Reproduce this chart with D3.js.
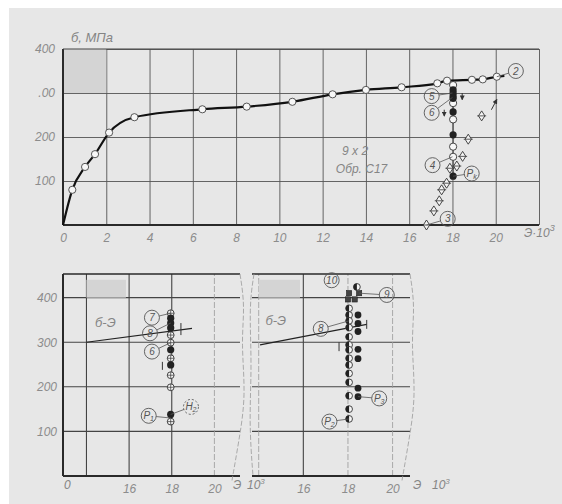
<!DOCTYPE html>
<html>
<head>
<meta charset="utf-8">
<script src="https://cdn.jsdelivr.net/npm/d3@7"></script>
<style>
  body { margin: 0; background: #fff; }
  .lbl { font-family: "Liberation Sans Narrow", "Liberation Sans", sans-serif; font-style: italic; fill: #858585; }
  .axis path { display: none; }
  .axis text { font-family: "Liberation Sans Narrow", "Liberation Sans", sans-serif; font-style: italic; fill: #8c8c8c; font-size: 12px; }
</style>
</head>
<body>
<div id="chart"></div>
<script>
// ---------- data (strain E x10^3, stress MPa) ----------
// main stress-strain curve, top chart
var curveE = [0, 0.43, 1.02, 1.48, 2.13, 3.3, 6.44, 8.49, 10.6, 12.46, 14.0, 15.65, 17.3, 17.75, 18.9, 19.4, 20.05, 20.4];
var curveS = [0, 80, 132, 161, 210, 245, 263, 269, 280, 297, 307, 313, 322, 328, 330, 331, 337, 339];
// vertical column at E ~ 18 (top chart)
var colE = 18.03;
var colOpenS = [318, 277, 240, 178, 155];
var colFilledS = [307, 300, 293, 288, 257, 205, 111];
// unloading diamonds
var diaE = [19.35, 18.73, 18.47, 18.2, 17.88, 17.73, 17.5, 17.39, 17.14, 16.8];
var diaS = [248, 195, 156, 134, 129, 95, 80, 55, 32, 0];

// bottom-left panel
var blE = 17.95;
var blCrossS = [365, 316, 299, 264, 226, 199, 122];
var blFilledS = [354, 343, 332, 283, 249, 138];
var blLineE = [14.0, 18.95];
var blLineS = [300, 331];

// bottom-right panel
var brE = 18.05;
var brHalfS = [376, 361, 348, 333, 312, 294, 283, 264, 249, 230, 210, 180, 150, 128];
var brFilledE = 18.45;
var brFilledS = [361, 342, 324, 284, 263, 197, 178];
var brSqE = [18.05, 18.0, 18.3, 18.5];
var brSqS = [410, 396, 396, 410];
var brLineE = [14.06, 18.84];
var brLineS = [294, 340];

// tick labels
var topXTicks = [0, 2, 4, 6, 8, 10, 12, 14, 16, 18, 20];
var topYTicks = [100, 200, 300, 400];
var topYLabels = ["100", "200", ".00", "400"];
var botXTicks = [16, 18, 20];
var botYTicks = [100, 200, 300, 400];

// circled callouts: [text, labelE, labelS, targetE, targetS]
var topNotes = [["2", 20.93, 350, 20.05, 337], ["5", 17.04, 293, 18.0, 300], ["6", 17.04, 255, 18.0, 290],
  ["4", 17.08, 136, 18.0, 155], ["Pk", 18.89, 117, 18.03, 111], ["3", 17.78, 14, 16.8, 0]];
var blNotes = [["7", 17.07, 355, 17.95, 365], ["8", 16.98, 320, 17.95, 343], ["6", 17.07, 279, 17.95, 299],
  ["P1", 16.92, 135, 17.95, 130], ["H2", 18.9, 155, 17.95, 138]];
var brNotes = [["10", 17.27, 439, null, null], ["9", 19.74, 406, 18.5, 410], ["8", 16.78, 330, 18.05, 348],
  ["P3", 19.4, 174, 18.45, 178], ["P2", 17.17, 122, 18.05, 128]];

// ---------- setup ----------
var svg_width = 562, svg_height = 504;
var svg = d3.select("#chart").append("svg")
  .attr("width", svg_width).attr("height", svg_height);

svg.append("rect").attr("x", 9).attr("y", 8).attr("width", svg_width - 9).attr("height", svg_height - 8)
  .attr("fill", "#e7e7e7");

var ink = "#2a2a2a";

// scales
var xTop = d3.scaleLinear().domain([0, 22]).range([63, 539]);
var yTop = d3.scaleLinear().domain([0, 400]).range([225, 49]);
var xBL = d3.scaleLinear().domain([12.9, 21.2]).range([63, 240]);
var xBR = d3.scaleLinear().domain([13.7, 20.78]).range([252, 410]);
var yBot = d3.scaleLinear().domain([0, 453]).range([476, 274]);

// ---------- top chart ----------
var topG = svg.append("g");
// grid
topG.append("g").attr("transform", "translate(0,225)")
  .call(d3.axisBottom(xTop).tickValues(d3.range(2, 23, 2)).tickSize(-176).tickFormat(""))
  .selectAll("line").attr("stroke", "#555").attr("stroke-width", 0.9);
topG.append("g").attr("transform", "translate(63,0)")
  .call(d3.axisLeft(yTop).tickValues(topYTicks).tickSize(-476).tickFormat(""))
  .selectAll("line").attr("stroke", "#555").attr("stroke-width", 0.9);
topG.selectAll(".domain").remove();
// redaction block
topG.append("rect").attr("x", xTop(0)).attr("y", yTop(400)).attr("width", xTop(2) - xTop(0))
  .attr("height", yTop(300) - yTop(400)).attr("fill", "#d4d4d4");
// axes
topG.append("line").attr("x1", xTop(0)).attr("x2", xTop(22)).attr("y1", yTop(0)).attr("y2", yTop(0))
  .attr("stroke", ink).attr("stroke-width", 2);
topG.append("line").attr("x1", xTop(0)).attr("x2", xTop(0)).attr("y1", yTop(0)).attr("y2", yTop(400))
  .attr("stroke", ink).attr("stroke-width", 2);
topG.append("line").attr("x1", xTop(0)).attr("x2", xTop(22)).attr("y1", yTop(400)).attr("y2", yTop(400))
  .attr("stroke", "#444").attr("stroke-width", 1.2);

topG.append("g").attr("class", "axis").attr("transform", "translate(0,225)")
  .call(d3.axisBottom(xTop).tickValues(topXTicks).tickSize(0).tickPadding(8));
topG.append("g").attr("class", "axis").attr("transform", "translate(63,0)")
  .call(d3.axisLeft(yTop).tickValues(topYTicks).tickSize(0).tickPadding(8)
    .tickFormat(function(d, i) { return topYLabels[i]; }));

topG.append("text").attr("class", "lbl").attr("x", 71).attr("y", 42).attr("font-size", 13).text("б, МПа");
var unitTop = topG.append("text").attr("class", "lbl").attr("x", 524).attr("y", 237).attr("font-size", 12);
unitTop.append("tspan").text("Э·10");
unitTop.append("tspan").attr("dy", -6).attr("font-size", 9).text("3");

topG.append("text").attr("class", "lbl").attr("x", xTop(13.5)).attr("y", yTop(160)).attr("text-anchor", "middle")
  .attr("font-size", 12).text("9 x 2");
topG.append("text").attr("class", "lbl").attr("x", xTop(13.8)).attr("y", yTop(118)).attr("text-anchor", "middle")
  .attr("font-size", 12).text("Обр. С17");

// curve
var curvePts = curveE.map(function(e, i) { return [e, curveS[i]]; });
topG.append("path").datum(curvePts)
  .attr("d", d3.line().x(function(d) { return xTop(d[0]); }).y(function(d) { return yTop(d[1]); }).curve(d3.curveMonotoneX))
  .attr("fill", "none").attr("stroke", "#111").attr("stroke-width", 2.2);

// column vertical guide
topG.append("line").attr("x1", xTop(colE)).attr("x2", xTop(colE)).attr("y1", yTop(318)).attr("y2", yTop(105))
  .attr("stroke", "#444").attr("stroke-width", 1);

// small arrows
function arrow(g, x1, y1, x2, y2) {
  g.append("line").attr("x1", x1).attr("y1", y1).attr("x2", x2).attr("y2", y2)
    .attr("stroke", "#333").attr("stroke-width", 1).attr("marker-end", "url(#ah)");
}
svg.append("defs").append("marker").attr("id", "ah").attr("viewBox", "0 0 6 6").attr("refX", 5).attr("refY", 3)
  .attr("markerWidth", 5).attr("markerHeight", 5).attr("orient", "auto")
  .append("path").attr("d", "M0,0L6,3L0,6Z").attr("fill", "#333");
arrow(topG, xTop(19.8), yTop(262), xTop(20.05), yTop(285));
arrow(topG, xTop(18.45), yTop(300), xTop(18.45), yTop(285));
arrow(topG, xTop(17.62), yTop(262), xTop(17.62), yTop(248));

// diamonds
topG.selectAll(".dia").data(diaE).enter().append("g")
  .attr("transform", function(d, i) { return "translate(" + xTop(d) + "," + yTop(diaS[i]) + ")"; })
  .each(function() {
    var g = d3.select(this);
    g.append("path").attr("d", "M0,-5L3.2,0L0,5L-3.2,0Z").attr("fill", "#f4f4f4").attr("stroke", "#333").attr("stroke-width", 0.9);
    g.append("line").attr("x1", -4.5).attr("x2", 4.5).attr("stroke", "#333").attr("stroke-width", 0.8);
  });

// open circles along curve
topG.selectAll(".oc").data(curveE.slice(1, 17)).enter().append("circle")
  .attr("cx", function(d) { return xTop(d); })
  .attr("cy", function(d, i) { return yTop(curveS[i + 1]); })
  .attr("r", 3.6).attr("fill", "#f7f7f7").attr("stroke", "#444").attr("stroke-width", 0.9);
topG.selectAll(".co").data(colOpenS).enter().append("circle")
  .attr("cx", xTop(colE)).attr("cy", function(d) { return yTop(d); })
  .attr("r", 3.6).attr("fill", "#f7f7f7").attr("stroke", "#333").attr("stroke-width", 0.9);
topG.selectAll(".cf").data(colFilledS).enter().append("circle")
  .attr("cx", xTop(colE)).attr("cy", function(d) { return yTop(d); })
  .attr("r", 3.6).attr("fill", "#222");

// ---------- callouts ----------
function callouts(g, notes, xs, ys, dashed) {
  notes.forEach(function(n) {
    var cx = xs(n[1]), cy = ys(n[2]);
    if (n[3] !== null) {
      var tx = xs(n[3]), ty2 = ys(n[4]);
      var dx = tx - cx, dy = ty2 - cy, len = Math.sqrt(dx * dx + dy * dy);
      g.append("line").attr("x1", cx + dx / len * 7.5).attr("y1", cy + dy / len * 7.5)
        .attr("x2", tx).attr("y2", ty2).attr("stroke", "#555").attr("stroke-width", 0.8);
    }
    g.append("circle").attr("cx", cx).attr("cy", cy).attr("r", 7.5)
      .attr("fill", "none").attr("stroke", "#555").attr("stroke-width", 0.9)
      .attr("stroke-dasharray", (dashed && n[0][0] === "H") ? "2,2" : null);
    var t = g.append("text").attr("class", "lbl").attr("x", cx).attr("y", cy + 3.5)
      .attr("text-anchor", "middle").attr("font-size", 10).style("fill", "#555");
    if (n[0].length > 1 && isNaN(+n[0])) {
      t.append("tspan").text(n[0][0]);
      t.append("tspan").attr("dy", 2).attr("font-size", 7).text(n[0].slice(1));
    } else {
      t.text(n[0]);
    }
  });
}
callouts(topG, topNotes, xTop, yTop, false);

// ---------- bottom panels ----------
function panel(xs, lo, hi, gridDark, showY) {
  var g = svg.append("g");
  botYTicks.forEach(function(v) {
    g.append("line").attr("x1", xs(lo)).attr("x2", xs(hi)).attr("y1", yBot(v)).attr("y2", yBot(v))
      .attr("stroke", "#444").attr("stroke-width", 1.1);
  });
  [14, 16, 18, 20].forEach(function(v, i) {
    g.append("line").attr("x1", xs(v)).attr("x2", xs(v)).attr("y1", yBot(0)).attr("y2", yBot(453))
      .attr("stroke", gridDark[i] ? "#444" : "#999").attr("stroke-width", gridDark[i] ? 1.1 : 0.8)
      .attr("stroke-dasharray", gridDark[i] ? null : "6,2");
  });
  g.append("line").attr("x1", xs(lo)).attr("x2", xs(hi)).attr("y1", yBot(0)).attr("y2", yBot(0))
    .attr("stroke", ink).attr("stroke-width", 2);
  g.append("line").attr("x1", xs(lo)).attr("x2", xs(hi)).attr("y1", yBot(453)).attr("y2", yBot(453))
    .attr("stroke", ink).attr("stroke-width", 1.4);
  // wavy break on right
  var wave = d3.line().curve(d3.curveBasis);
  var rx = xs(hi);
  g.append("path").attr("d", wave([[rx, yBot(453)], [rx + 5, yBot(380)], [rx + 1, yBot(300)], [rx + 6, yBot(180)], [rx - 1, yBot(80)], [rx - 8, yBot(-10)]]))
    .attr("fill", "none").attr("stroke", "#999").attr("stroke-width", 0.8).attr("stroke-dasharray", "5,2");
  g.append("g").attr("class", "axis").attr("transform", "translate(0," + yBot(0) + ")")
    .call(d3.axisBottom(xs).tickValues(botXTicks).tickSize(0).tickPadding(8));
  if (showY) {
    g.append("line").attr("x1", xs(lo)).attr("x2", xs(lo)).attr("y1", yBot(0)).attr("y2", yBot(453))
      .attr("stroke", ink).attr("stroke-width", 2);
    g.append("g").attr("class", "axis").attr("transform", "translate(" + xs(lo) + ",0)")
      .call(d3.axisLeft(yBot).tickValues(botYTicks).tickSize(0).tickPadding(6));
  } else {
    var lx = xs(lo);
    g.append("path").attr("d", wave([[lx + 2, yBot(453)], [lx - 3, yBot(380)], [lx, yBot(250)], [lx - 3, yBot(120)], [lx + 1, yBot(0)]]))
      .attr("fill", "none").attr("stroke", "#999").attr("stroke-width", 0.8).attr("stroke-dasharray", "5,2");
  }
  g.append("rect").attr("x", xs(14)).attr("y", yBot(440)).attr("width", xs(15.85) - xs(14))
    .attr("height", yBot(400) - yBot(440)).attr("fill", "#d4d4d4");
  return g;
}

// bottom-left
var bl = panel(xBL, 12.9, 21.2, [true, true, true, false], true);
bl.append("text").attr("class", "lbl").attr("x", xBL(12.95)).attr("y", 489).attr("font-size", 12).text("0");
bl.append("text").attr("class", "lbl").attr("x", 233).attr("y", 489).attr("font-size", 12).text("Э");
var u1 = bl.append("text").attr("class", "lbl").attr("x", 247).attr("y", 489).attr("font-size", 12);
u1.append("tspan").text("10");
u1.append("tspan").attr("dy", -5).attr("font-size", 8).text("3");
bl.append("text").attr("class", "lbl").attr("x", xBL(14.4)).attr("y", yBot(335)).attr("font-size", 13).text("б-Э");
bl.append("path").datum(blLineE.map(function(e, i) { return [e, blLineS[i]]; }))
  .attr("d", d3.line().x(function(d) { return xBL(d[0]); }).y(function(d) { return yBot(d[1]); }))
  .attr("stroke", "#222").attr("stroke-width", 1.2).attr("fill", "none");
bl.append("line").attr("x1", xBL(18.43)).attr("x2", xBL(18.43)).attr("y1", yBot(343)).attr("y2", yBot(316))
  .attr("stroke", "#333").attr("stroke-width", 1);
bl.append("line").attr("x1", xBL(17.56)).attr("x2", xBL(17.56)).attr("y1", yBot(256)).attr("y2", yBot(238))
  .attr("stroke", "#333").attr("stroke-width", 1);
bl.selectAll(".bc").data(blCrossS).enter().append("g")
  .attr("transform", function(d) { return "translate(" + xBL(blE) + "," + yBot(d) + ")"; })
  .each(function() {
    var g = d3.select(this);
    g.append("circle").attr("r", 3.4).attr("fill", "#f4f4f4").attr("stroke", "#333").attr("stroke-width", 0.9);
    g.append("path").attr("d", "M-3.4,0H3.4M0,-3.4V3.4").attr("stroke", "#333").attr("stroke-width", 0.7);
  });
bl.selectAll(".bf").data(blFilledS).enter().append("circle")
  .attr("cx", xBL(blE)).attr("cy", function(d) { return yBot(d); }).attr("r", 3.6).attr("fill", "#222");
callouts(bl, blNotes, xBL, yBot, true);

// bottom-right
var br = panel(xBR, 13.7, 20.78, [false, true, false, false], false);
br.append("text").attr("class", "lbl").attr("x", 413).attr("y", 489).attr("font-size", 12).text("Э");
var u2 = br.append("text").attr("class", "lbl").attr("x", 432).attr("y", 489).attr("font-size", 12);
u2.append("tspan").text("10");
u2.append("tspan").attr("dy", -5).attr("font-size", 8).text("3");
br.append("text").attr("class", "lbl").attr("x", xBR(14.3)).attr("y", yBot(338)).attr("font-size", 13).text("б-Э");
br.append("path").datum(brLineE.map(function(e, i) { return [e, brLineS[i]]; }))
  .attr("d", d3.line().x(function(d) { return xBR(d[0]); }).y(function(d) { return yBot(d[1]); }))
  .attr("stroke", "#222").attr("stroke-width", 1.2).attr("fill", "none");
br.append("line").attr("x1", xBR(18.84)).attr("x2", xBR(18.84)).attr("y1", yBot(350)).attr("y2", yBot(330))
  .attr("stroke", "#333").attr("stroke-width", 1);
br.append("line").attr("x1", xBR(17.6)).attr("x2", xBR(17.6)).attr("y1", yBot(300)).attr("y2", yBot(280))
  .attr("stroke", "#333").attr("stroke-width", 1);
br.selectAll(".bs").data(brSqE).enter().append("rect")
  .attr("x", function(d) { return xBR(d) - 2.6; }).attr("y", function(d, i) { return yBot(brSqS[i]) - 2.6; })
  .attr("width", 5.2).attr("height", 5.2).attr("fill", "#444").attr("stroke", "#222").attr("stroke-width", 0.6);
br.selectAll(".bh").data(brHalfS.concat([424])).enter().append("g")
  .attr("transform", function(d, i) { return "translate(" + xBR(i < brHalfS.length ? brE : 18.4) + "," + yBot(d) + ")"; })
  .each(function() {
    var g = d3.select(this);
    g.append("circle").attr("r", 3.4).attr("fill", "#f4f4f4").attr("stroke", "#333").attr("stroke-width", 0.9);
    g.append("path").attr("d", "M0,-3.4A3.4,3.4 0 0 0 0,3.4Z").attr("fill", "#222");
  });
br.selectAll(".bf2").data(brFilledS).enter().append("circle")
  .attr("cx", xBR(brFilledE)).attr("cy", function(d) { return yBot(d); }).attr("r", 3.4).attr("fill", "#222");
callouts(br, brNotes, xBR, yBot, false);
</script>
</body>
</html>
